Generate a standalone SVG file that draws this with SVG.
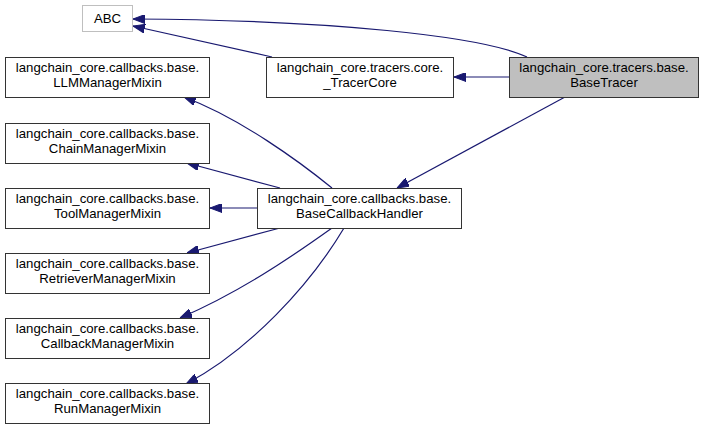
<svg xmlns="http://www.w3.org/2000/svg" width="704" height="430" viewBox="0 0 704 430">
<style>
.box{fill:#ffffff;stroke:#333333;stroke-width:1}
.hl{fill:#bfbfbf;stroke:#333333;stroke-width:1}
.ext{fill:#ffffff;stroke:#bfbfbf;stroke-width:1}
text{font-family:"Liberation Sans",Arial,Helvetica,sans-serif;font-size:13.2px;fill:#000000;text-anchor:middle}
.edge{fill:none;stroke:#191970;stroke-width:1.2;marker-end:url(#arr)}
</style>
<defs>
<marker id="arr" viewBox="0 0 12 9" refX="12" refY="4.5" markerWidth="12" markerHeight="9" markerUnits="userSpaceOnUse" orient="auto">
<path d="M0,0 L12,4.5 L0,9 z" fill="#191970" stroke="#191970" stroke-width="1"/>
</marker>
</defs>
<rect width="704" height="430" fill="#ffffff"/>
<g id="edges">
<path class="edge" d="M527,57 C482,36 330,20 133,19"/>
<path class="edge" d="M272,57 L133,26"/>
<path class="edge" d="M509,77 L454,77"/>
<path class="edge" d="M565,97 L397,188"/>
<path class="edge" d="M332,188 C300,162 240,118 184,97"/>
<path class="edge" d="M280,188 L187,163"/>
<path class="edge" d="M257,208 L210,208"/>
<path class="edge" d="M280,228 L187,253"/>
<path class="edge" d="M332,228 C290,258 240,292 180,318"/>
<path class="edge" d="M344,228 C310,285 250,350 186,384"/>
</g>
<g id="ABC">
<rect class="ext" x="82.5" y="5.5" width="50" height="26"/>
<text x="107.5" y="23">ABC</text>
</g>
<g id="LLMManagerMixin">
<rect class="box" x="5.5" y="57.5" width="204" height="40"/>
<text x="107.5" y="72">langchain_core.callbacks.base.</text>
<text x="107.5" y="86.5">LLMManagerMixin</text>
</g>
<g id="ChainManagerMixin">
<rect class="box" x="5.5" y="123.5" width="204" height="40"/>
<text x="107.5" y="138">langchain_core.callbacks.base.</text>
<text x="107.5" y="152.5">ChainManagerMixin</text>
</g>
<g id="ToolManagerMixin">
<rect class="box" x="5.5" y="188.5" width="204" height="40"/>
<text x="107.5" y="203">langchain_core.callbacks.base.</text>
<text x="107.5" y="217.5">ToolManagerMixin</text>
</g>
<g id="RetrieverManagerMixin">
<rect class="box" x="5.5" y="253.5" width="204" height="40"/>
<text x="107.5" y="268">langchain_core.callbacks.base.</text>
<text x="107.5" y="282.5">RetrieverManagerMixin</text>
</g>
<g id="CallbackManagerMixin">
<rect class="box" x="5.5" y="318.5" width="204" height="40"/>
<text x="107.5" y="333">langchain_core.callbacks.base.</text>
<text x="107.5" y="347.5">CallbackManagerMixin</text>
</g>
<g id="RunManagerMixin">
<rect class="box" x="5.5" y="383.5" width="204" height="40"/>
<text x="107.5" y="398">langchain_core.callbacks.base.</text>
<text x="107.5" y="412.5">RunManagerMixin</text>
</g>
<g id="TracerCore">
<rect class="box" x="266.5" y="57.5" width="187" height="40"/>
<text x="360" y="72">langchain_core.tracers.core.</text>
<text x="360" y="86.5">_TracerCore</text>
</g>
<g id="BaseTracer">
<rect class="hl" x="509.5" y="57.5" width="189" height="40"/>
<text x="604" y="72">langchain_core.tracers.base.</text>
<text x="604" y="86.5">BaseTracer</text>
</g>
<g id="BaseCallbackHandler">
<rect class="box" x="257.5" y="188.5" width="204" height="40"/>
<text x="359.5" y="203">langchain_core.callbacks.base.</text>
<text x="359.5" y="217.5">BaseCallbackHandler</text>
</g>
</svg>
